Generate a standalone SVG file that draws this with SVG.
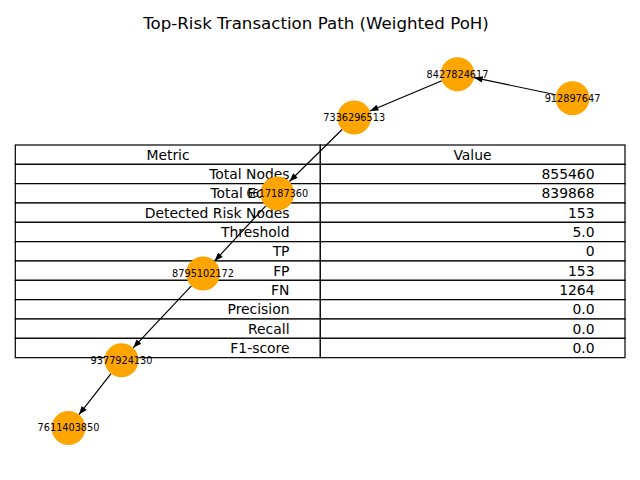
<svg xmlns="http://www.w3.org/2000/svg" width="640" height="480" viewBox="0 0 640 480">
<style>
text{font-family:"DejaVu Sans","Liberation Sans",sans-serif;fill:#000}
.title{font-size:16.67px;text-anchor:middle}
.cell{fill:#fff;stroke:#000;stroke-width:1.2}
.th{font-size:13.9px;text-anchor:middle}
.td{font-size:13.9px;text-anchor:end}
.edge{stroke:#000;stroke-width:1.2;fill:none;marker-end:url(#arr)}
.node{fill:#FFA500}
.lbl{font-size:9.72px;text-anchor:middle}
</style>
<defs>
<marker id="arr" markerUnits="userSpaceOnUse" markerWidth="12" markerHeight="10" viewBox="-10 -5 12 10" refX="0" refY="0" orient="auto">
<path d="M0,0 L-8.5,-3.2 L-8.5,3.2 Z" fill="#000"/>
</marker>
</defs>
<rect width="640" height="480" fill="#fff"/>
<text class="title" x="316" y="29">Top-Risk Transaction Path (Weighted PoH)</text>
<g id="table">
<rect class="cell" x="15.3" y="145" width="305" height="19.33"/><rect class="cell" x="320.3" y="145" width="304.7" height="19.33"/>
<rect class="cell" x="15.3" y="164.33" width="305" height="19.33"/><rect class="cell" x="320.3" y="164.33" width="304.7" height="19.33"/>
<rect class="cell" x="15.3" y="183.67" width="305" height="19.33"/><rect class="cell" x="320.3" y="183.67" width="304.7" height="19.33"/>
<rect class="cell" x="15.3" y="203" width="305" height="19.33"/><rect class="cell" x="320.3" y="203" width="304.7" height="19.33"/>
<rect class="cell" x="15.3" y="222.33" width="305" height="19.33"/><rect class="cell" x="320.3" y="222.33" width="304.7" height="19.33"/>
<rect class="cell" x="15.3" y="241.67" width="305" height="19.33"/><rect class="cell" x="320.3" y="241.67" width="304.7" height="19.33"/>
<rect class="cell" x="15.3" y="261" width="305" height="19.33"/><rect class="cell" x="320.3" y="261" width="304.7" height="19.33"/>
<rect class="cell" x="15.3" y="280.33" width="305" height="19.33"/><rect class="cell" x="320.3" y="280.33" width="304.7" height="19.33"/>
<rect class="cell" x="15.3" y="299.67" width="305" height="19.33"/><rect class="cell" x="320.3" y="299.67" width="304.7" height="19.33"/>
<rect class="cell" x="15.3" y="319" width="305" height="19.33"/><rect class="cell" x="320.3" y="319" width="304.7" height="19.33"/>
<rect class="cell" x="15.3" y="338.33" width="305" height="19.33"/><rect class="cell" x="320.3" y="338.33" width="304.7" height="19.33"/>
<text class="th" x="168" y="159.7">Metric</text><text class="th" x="472.5" y="159.7">Value</text>
<text class="td" x="289.5" y="179">Total Nodes</text><text class="td" x="594.5" y="179">855460</text>
<text class="td" x="289.5" y="198.3">Total Edges</text><text class="td" x="594.5" y="198.3">839868</text>
<text class="td" x="289.5" y="217.7">Detected Risk Nodes</text><text class="td" x="594.5" y="217.7">153</text>
<text class="td" x="289.5" y="237">Threshold</text><text class="td" x="594.5" y="237">5.0</text>
<text class="td" x="289.5" y="256.3">TP</text><text class="td" x="594.5" y="256.3">0</text>
<text class="td" x="289.5" y="275.7">FP</text><text class="td" x="594.5" y="275.7">153</text>
<text class="td" x="289.5" y="295">FN</text><text class="td" x="594.5" y="295">1264</text>
<text class="td" x="289.5" y="314.3">Precision</text><text class="td" x="594.5" y="314.3">0.0</text>
<text class="td" x="289.5" y="333.7">Recall</text><text class="td" x="594.5" y="333.7">0.0</text>
<text class="td" x="289.5" y="353">F1-score</text><text class="td" x="594.5" y="353">0.0</text>
</g>
<g id="connectors">
<line class="edge" x1="555.86" y1="94.73" x2="474.14" y2="77.67"/>
<line class="edge" x1="441.82" y1="80.77" x2="369.88" y2="110.93"/>
<line class="edge" x1="342.11" y1="129.45" x2="289.39" y2="181.55"/>
<line class="edge" x1="265.73" y1="205.96" x2="214.57" y2="261.04"/>
<line class="edge" x1="191.36" y1="285.89" x2="133.14" y2="347.81"/>
<line class="edge" x1="111.03" y1="373.59" x2="78.97" y2="414.61"/>
</g>
<g id="n8427824617"><circle class="node" cx="457.5" cy="74.2" r="17"/><text class="lbl" x="457.5" y="77.5">8427824617</text></g>
<g id="n912897647"><circle class="node" cx="572.5" cy="98.2" r="17"/><text class="lbl" x="572.5" y="101.5">912897647</text></g>
<g id="n7336296513"><circle class="node" cx="354.2" cy="117.5" r="17"/><text class="lbl" x="354.2" y="120.8">7336296513</text></g>
<g id="n6617187360"><circle class="node" cx="277.3" cy="193.5" r="17"/><text class="lbl" x="277.3" y="196.8">6617187360</text></g>
<g id="n8795102172"><circle class="node" cx="203" cy="273.5" r="17"/><text class="lbl" x="203" y="276.8">8795102172</text></g>
<g id="n9377924130"><circle class="node" cx="121.5" cy="360.2" r="17"/><text class="lbl" x="121.5" y="363.5">9377924130</text></g>
<g id="n7611403850"><circle class="node" cx="68.5" cy="428" r="17"/><text class="lbl" x="68.5" y="431.3">7611403850</text></g>
</svg>
